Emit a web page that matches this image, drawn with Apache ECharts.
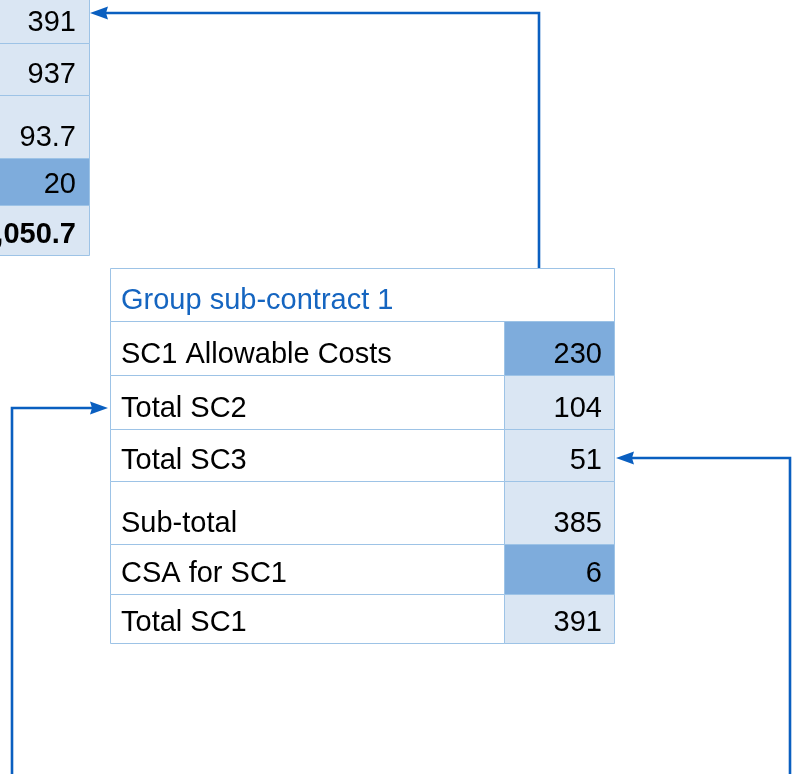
<!DOCTYPE html>
<html><head><meta charset="utf-8">
<script src="https://cdn.jsdelivr.net/npm/echarts@6/dist/echarts.min.js"></script>
<style>html,body{margin:0;padding:0;background:#fff}#c{width:792px;height:774px}</style>
</head><body><div id="c"></div>
<script>
// ---- data ----
const tableTitle = 'Group sub-contract 1';
const rowLabels = ['SC1 Allowable Costs', 'Total SC2', 'Total SC3', 'Sub-total', 'CSA for SC1', 'Total SC1'];
const rowValues = [230, 104, 51, 385, 6, 391];
const rowIsInput = [1, 0, 0, 0, 1, 0];
const carriedValues = [391, 937, 93.7, 20, 1050.7];
const carriedIsInput = [0, 0, 0, 1, 0];
const carriedIsBold = [0, 0, 0, 0, 1];

// ---- layout (pixel space of hidden value axes) ----
const W = 792, H = 774;
const MAIN = { x0: 110, xs: 504, x1: 614, edges: [268, 321, 375, 429, 481, 544, 594, 643] };
const LEFT = { x0: -300, x1: 89, edges: [-10, 43, 95, 158, 205, 255] };
const LINKS = [
  [[539, 268], [539, 13], [90, 13]],
  [[12, 790], [12, 408], [108, 408]],
  [[790, 790], [790, 458], [616, 458]]
];
const PAD = 12, TEXT_LIFT = 20;

// ---- styles ----
const C = { border: '#9dc3e6', light: '#dae6f3', dark: '#7eacdc', title: '#1565c0', text: '#000', link: '#0a5fc0' };
const FONT = '"Liberation Sans", Arial, sans-serif';
const FS = 29;

function fmt(v) { return v.toLocaleString('en-US', { maximumFractionDigits: 1 }); }
function rectEl(api, x0, y0, x1, y1, fill) {
  const a = api.coord([x0, y0]), b = api.coord([x1, y1]);
  return { type: 'rect', shape: { x: Math.round(Math.min(a[0], b[0])) + 0.5, y: Math.round(Math.min(a[1], b[1])) + 0.5,
    width: Math.round(Math.abs(b[0] - a[0])), height: Math.round(Math.abs(b[1] - a[1])) },
    style: { fill: fill, stroke: C.border, lineWidth: 1 } };
}
function textEl(api, x, y, text, align, color, weight) {
  const p = api.coord([x, y]);
  return { type: 'text', x: p[0], y: p[1], z2: 10,
    style: { text: text, fill: color, fontSize: FS, fontFamily: FONT, fontWeight: weight || 'normal', align: align, verticalAlign: 'middle' } };
}

const chart = echarts.init(document.getElementById('c'), null, { renderer: 'canvas' });
chart.setOption({
  backgroundColor: '#fff',
  animation: false,
  grid: { left: 0, right: 0, top: 0, bottom: 0 },
  xAxis: { type: 'value', min: 0, max: W, show: false },
  yAxis: { type: 'value', min: 0, max: H, inverse: true, show: false },
  series: [
    { // header of group table
      type: 'custom', coordinateSystem: 'cartesian2d', clip: false,
      data: [[0, 0]],
      renderItem: function (params, api) {
        const e = MAIN.edges;
        return { type: 'group', children: [
          rectEl(api, MAIN.x0, e[0], MAIN.x1, e[1], '#fff'),
          textEl(api, MAIN.x0 + 11, e[1] - TEXT_LIFT, tableTitle, 'left', C.title)
        ] };
      }
    },
    { // rows of group table
      type: 'custom', coordinateSystem: 'cartesian2d', clip: false,
      data: rowValues.map(function (v, i) { return [i, v]; }),
      renderItem: function (params, api) {
        const i = params.dataIndex, e = MAIN.edges;
        const y0 = e[i + 1], y1 = e[i + 2];
        return { type: 'group', children: [
          rectEl(api, MAIN.x0, y0, MAIN.xs, y1, '#fff'),
          rectEl(api, MAIN.xs, y0, MAIN.x1, y1, rowIsInput[i] ? C.dark : C.light),
          textEl(api, MAIN.x0 + 11, y1 - TEXT_LIFT, rowLabels[i], 'left', C.text),
          textEl(api, MAIN.x1 - PAD, y1 - TEXT_LIFT, fmt(api.value(1)), 'right', C.text)
        ] };
      }
    },
    { // carried-over values column (partially off-page)
      type: 'custom', coordinateSystem: 'cartesian2d', clip: false,
      data: carriedValues.map(function (v, i) { return [i, v]; }),
      renderItem: function (params, api) {
        const i = params.dataIndex, e = LEFT.edges;
        const y0 = e[i], y1 = e[i + 1];
        return { type: 'group', children: [
          rectEl(api, LEFT.x0, y0, LEFT.x1, y1, carriedIsInput[i] ? C.dark : C.light),
          textEl(api, LEFT.x1 - 13, y1 - TEXT_LIFT, fmt(api.value(1)), 'right', C.text, carriedIsBold[i] ? 'bold' : 'normal')
        ] };
      }
    },
    { // link arrows
      type: 'custom', coordinateSystem: 'cartesian2d', clip: false,
      data: LINKS.map(function (l, i) { return [i, 0]; }),
      renderItem: function (params, api) {
        const pts = LINKS[params.dataIndex].map(function (p) { return api.coord(p); });
        const n = pts.length, tip = pts[n - 1], prev = pts[n - 2];
        const dx = tip[0] - prev[0], dy = tip[1] - prev[1], len = Math.hypot(dx, dy);
        const ux = dx / len, uy = dy / len, L = 18, Wd = 6.5;
        const bx = tip[0] - ux * L, by = tip[1] - uy * L;
        const linePts = pts.slice(0, n - 1).concat([[bx + ux * 3, by + uy * 3]]);
        return { type: 'group', children: [
          { type: 'polyline', shape: { points: linePts }, style: { stroke: C.link, lineWidth: 2.6, fill: null } },
          { type: 'polygon', shape: { points: [tip, [bx - uy * Wd, by + ux * Wd], [bx + ux * 2, by + uy * 2], [bx + uy * Wd, by - ux * Wd]] },
            style: { fill: C.link } }
        ] };
      }
    }
  ]
});
</script>
</body></html>
